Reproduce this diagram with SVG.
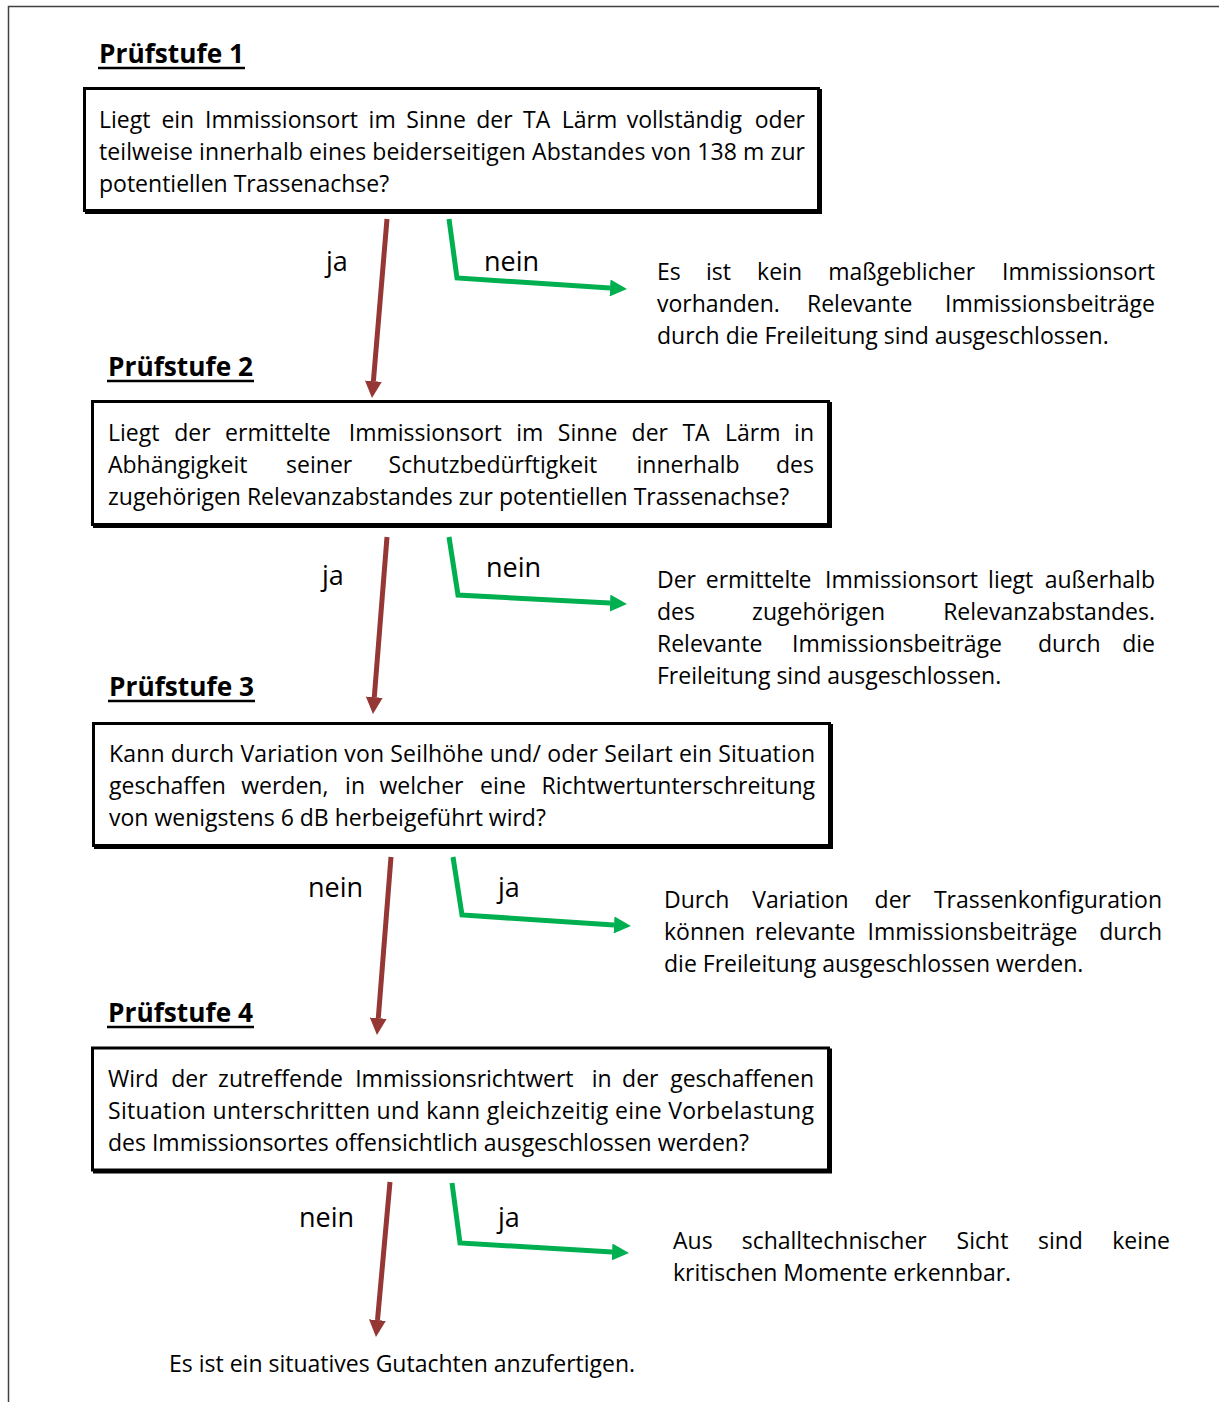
<svg xmlns="http://www.w3.org/2000/svg" width="1219" height="1402" viewBox="0 0 1219 1402">
<style>
.t{font-family:"Open Sans","Liberation Sans",sans-serif;font-size:23px;fill:#000}
.e{text-anchor:end}
.lb{font-family:"Open Sans","Liberation Sans",sans-serif;font-size:27px;fill:#000}
.h{font-family:"Open Sans","Liberation Sans",sans-serif;font-size:27.5px;font-weight:bold;fill:#000}
.ul{stroke:#000;stroke-width:2.5}
.box{fill:#fff;stroke:#000;stroke-width:3}
.sh{fill:#000;stroke:#000;stroke-width:3}
.red{fill:none;stroke:#953735;stroke-width:5}
.grn{fill:none;stroke:#00B050;stroke-width:5;stroke-linejoin:miter}
</style>
<defs>
<marker id="ahR" viewBox="0 0 17 17" refX="0" refY="8.5" markerWidth="17" markerHeight="17" markerUnits="userSpaceOnUse" orient="auto"><path d="M0,0 L17,8.5 L0,17 z" fill="#953735"/></marker>
<marker id="ahG" viewBox="0 0 17 17" refX="0" refY="8.5" markerWidth="17" markerHeight="17" markerUnits="userSpaceOnUse" orient="auto"><path d="M0,0 L17,8.5 L0,17 z" fill="#00B050"/></marker>
</defs>
<rect width="1219" height="1402" fill="#fff"/>
<path d="M8.5,1402 V6.5 H1219" fill="none" stroke="#404040" stroke-width="1.5"/>

<g id="heading1"><text class="h" x="99" y="63" textLength="145" lengthAdjust="spacingAndGlyphs">Prüfstufe 1</text><line class="ul" x1="98" y1="68" x2="245" y2="68"/></g>
<g id="heading2"><text class="h" x="108" y="376" textLength="145" lengthAdjust="spacingAndGlyphs">Prüfstufe 2</text><line class="ul" x1="107" y1="381" x2="254" y2="381"/></g>
<g id="heading3"><text class="h" x="109" y="696" textLength="145" lengthAdjust="spacingAndGlyphs">Prüfstufe 3</text><line class="ul" x1="108" y1="701" x2="255" y2="701"/></g>
<g id="heading4"><text class="h" x="108" y="1022" textLength="145" lengthAdjust="spacingAndGlyphs">Prüfstufe 4</text><line class="ul" x1="107" y1="1027" x2="254" y2="1027"/></g>

<g id="box1">
<rect class="sh" x="86.5" y="90.5" width="734" height="122"/>
<rect class="box" x="84.5" y="88.5" width="734" height="122"/>
<text class="t" y="128"><tspan x="99">Liegt</tspan><tspan x="161.4">ein</tspan><tspan x="205.1">Immissionsort</tspan><tspan x="368.6">im</tspan><tspan x="406.3">Sinne</tspan><tspan x="476.2">der</tspan><tspan x="523.1">TA</tspan><tspan x="561.8">Lärm</tspan><tspan x="626.7">vollständig</tspan></text>
<text class="t e" x="805" y="128">oder</text>
<text class="t" x="99" y="160" textLength="706" lengthAdjust="spacing">teilweise innerhalb eines beiderseitigen Abstandes von 138 m zur</text>
<text class="t" x="99" y="192">potentiellen Trassenachse?</text>
</g>

<g id="note1">
<text class="t" y="280"><tspan x="657">Es</tspan><tspan x="706">ist</tspan><tspan x="757.1">kein</tspan><tspan x="828.2">maßgeblicher</tspan></text>
<text class="t e" x="1155" y="280">Immissionsort</text>
<text class="t" y="312"><tspan x="657">vorhanden.</tspan><tspan x="807">Relevante</tspan></text>
<text class="t e" x="1155" y="312">Immissionsbeiträge</text>
<text class="t" x="657" y="344">durch die Freileitung sind ausgeschlossen.</text>
</g>

<g id="box2">
<rect class="sh" x="94.5" y="403.5" width="736" height="123"/>
<rect class="box" x="92.5" y="401.5" width="736" height="123"/>
<text class="t" y="441"><tspan x="108">Liegt</tspan><tspan x="174.3">der</tspan><tspan x="225.1">ermittelte</tspan><tspan x="348.8">Immissionsort</tspan><tspan x="516.2">im</tspan><tspan x="557.8">Sinne</tspan><tspan x="631.6">der</tspan><tspan x="682.4">TA</tspan><tspan x="725">Lärm</tspan></text>
<text class="t e" x="814" y="441">in</text>
<text class="t" y="473"><tspan x="108">Abhängigkeit</tspan><tspan x="286.1">seiner</tspan><tspan x="388.6">Schutzbedürftigkeit</tspan><tspan x="636.5">innerhalb</tspan></text>
<text class="t e" x="814" y="473">des</text>
<text class="t" x="108" y="505">zugehörigen Relevanzabstandes zur potentiellen Trassenachse?</text>
</g>

<g id="note2">
<text class="t" y="588"><tspan x="657">Der</tspan><tspan x="705.8">ermittelte</tspan><tspan x="825.1">Immissionsort</tspan><tspan x="988.1">liegt</tspan></text>
<text class="t e" x="1155" y="588">außerhalb</text>
<text class="t" y="620"><tspan x="657">des</tspan><tspan x="752.1">zugehörigen</tspan></text>
<text class="t e" x="1155" y="620">Relevanzabstandes.</text>
<text class="t" y="652"><tspan x="657">Relevante</tspan><tspan x="792">Immissionsbeiträge</tspan><tspan x="1038">durch</tspan></text>
<text class="t e" x="1155" y="652">die</text>
<text class="t" x="657" y="684">Freileitung sind ausgeschlossen.</text>
</g>

<g id="box3">
<rect class="sh" x="95.5" y="725.5" width="736" height="122"/>
<rect class="box" x="93.5" y="723.5" width="736" height="122"/>
<text class="t" x="109" y="762" textLength="706" lengthAdjust="spacing">Kann durch Variation von Seilhöhe und/ oder Seilart ein Situation</text>
<text class="t" y="794"><tspan x="109">geschaffen</tspan><tspan x="241.2">werden,</tspan><tspan x="345.1">in</tspan><tspan x="379.5">welcher</tspan><tspan x="480.1">eine</tspan></text>
<text class="t e" x="815" y="794">Richtwertunterschreitung</text>
<text class="t" x="109" y="826">von wenigstens 6 dB herbeigeführt wird?</text>
</g>

<g id="note3">
<text class="t" y="908"><tspan x="664">Durch</tspan><tspan x="752.2">Variation</tspan><tspan x="874.6">der</tspan></text>
<text class="t e" x="1162" y="908">Trassenkonfiguration</text>
<text class="t" y="940"><tspan x="664">können</tspan><tspan x="755">relevante</tspan><tspan x="867.5">Immissionsbeiträge</tspan></text>
<text class="t e" x="1162" y="940">durch</text>
<text class="t" x="664" y="972">die Freileitung ausgeschlossen werden.</text>
</g>

<g id="box4">
<rect class="sh" x="94.5" y="1050" width="736" height="122"/>
<rect class="box" x="92.5" y="1048" width="736" height="122"/>
<text class="t" y="1087"><tspan x="108">Wird</tspan><tspan x="171.3">der</tspan><tspan x="218.1">zutreffende</tspan><tspan x="355.2">Immissionsrichtwert</tspan><tspan x="591.8">in</tspan><tspan x="622.1">der</tspan></text>
<text class="t e" x="814" y="1087">geschaffenen</text>
<text class="t" x="108" y="1119" textLength="706" lengthAdjust="spacing">Situation unterschritten und kann gleichzeitig eine Vorbelastung</text>
<text class="t" x="108" y="1151">des Immissionsortes offensichtlich ausgeschlossen werden?</text>
</g>

<g id="note4">
<text class="t" y="1249"><tspan x="673">Aus</tspan><tspan x="741.7">schalltechnischer</tspan><tspan x="956.6">Sicht</tspan><tspan x="1038">sind</tspan></text>
<text class="t e" x="1170" y="1249">keine</text>
<text class="t" x="673" y="1281">kritischen Momente erkennbar.</text>
</g>

<g id="final">
<text class="t" x="169" y="1372">Es ist ein situatives Gutachten anzufertigen.</text>
</g>

<g id="connectors">
<path class="red" d="M387,219 L373.4,381.1" marker-end="url(#ahR)"/>
<path class="grn" d="M449,219 L457,278 L610,287.9" marker-end="url(#ahG)"/>
<path class="red" d="M387,537 L374.3,697.1" marker-end="url(#ahR)"/>
<path class="grn" d="M449,537 L458,595 L610,603.1" marker-end="url(#ahG)"/>
<path class="red" d="M391,857 L378.3,1018.1" marker-end="url(#ahR)"/>
<path class="grn" d="M453,857 L462,915 L614,924.9" marker-end="url(#ahG)"/>
<path class="red" d="M390,1182 L377.5,1320.1" marker-end="url(#ahR)"/>
<path class="grn" d="M452,1183 L460,1243 L612,1252" marker-end="url(#ahG)"/>
<text class="lb" x="326" y="271">ja</text>
<text class="lb" x="484" y="271">nein</text>
<text class="lb" x="322" y="585">ja</text>
<text class="lb" x="486" y="577">nein</text>
<text class="lb" x="308" y="897">nein</text>
<text class="lb" x="498" y="897">ja</text>
<text class="lb" x="299" y="1227">nein</text>
<text class="lb" x="498" y="1227">ja</text>
</g>
</svg>
